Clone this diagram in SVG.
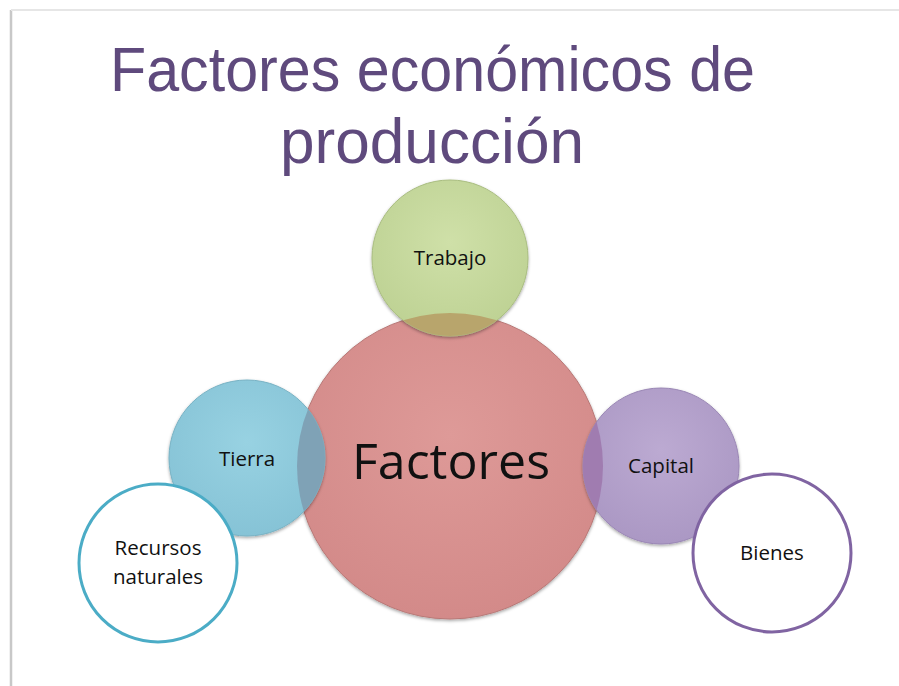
<svg xmlns="http://www.w3.org/2000/svg" width="899" height="686" viewBox="0 0 899 686">
  <defs>
    <style>
      .title { font-family: "Liberation Sans", Arial, sans-serif; fill: #5f4a7d; font-size: 63px; }
      .lbl { font-family: "Open Sans", "Liberation Sans", sans-serif; fill: #111; font-size: 20.5px; text-anchor: middle; }
      .big { font-family: "Open Sans", "Liberation Sans", sans-serif; fill: #111; font-size: 50px; text-anchor: middle; }
    </style>
    <clipPath id="clipBig"><circle cx="450" cy="466" r="153"/></clipPath>
    <radialGradient id="gGreen" cx="50%" cy="40%" r="60%">
      <stop offset="0" stop-color="#cfe0a8"/>
      <stop offset="1" stop-color="#bed294"/>
    </radialGradient>
    <radialGradient id="gPink" cx="50%" cy="40%" r="60%">
      <stop offset="0" stop-color="#de9a98"/>
      <stop offset="1" stop-color="#d38a89"/>
    </radialGradient>
    <radialGradient id="gBlue" cx="50%" cy="40%" r="60%">
      <stop offset="0" stop-color="#98d2e2"/>
      <stop offset="1" stop-color="#86c3d6"/>
    </radialGradient>
    <radialGradient id="gPurple" cx="50%" cy="40%" r="60%">
      <stop offset="0" stop-color="#bcaad2"/>
      <stop offset="1" stop-color="#ab98c4"/>
    </radialGradient>
    <filter id="sh" x="-10%" y="-10%" width="120%" height="120%">
      <feDropShadow dx="0" dy="1.5" stdDeviation="1.5" flood-color="#000" flood-opacity="0.35"/>
    </filter>
  </defs>

  <rect x="0" y="0" width="899" height="686" fill="#ffffff"/>
  <!-- slide border -->
  <line x1="11" y1="10" x2="11" y2="686" stroke="#c8c8c8" stroke-width="2.5"/>
  <line x1="11" y1="10" x2="899" y2="10" stroke="#e6e6e6" stroke-width="2"/>

  <g id="title">
    <text class="title" x="110" y="91" textLength="645" lengthAdjust="spacingAndGlyphs">Factores económicos de</text>
    <text class="title" x="280" y="163" textLength="304" lengthAdjust="spacingAndGlyphs">producción</text>
  </g>

  <g id="factores">
    <circle cx="450" cy="466" r="153" fill="url(#gPink)" stroke="#b87876" stroke-width="1" filter="url(#sh)"/>
  </g>

  <g id="trabajo">
    <circle cx="450" cy="258" r="78" fill="url(#gGreen)" stroke="#a9bd80" stroke-width="1" filter="url(#sh)"/>
    <circle cx="450" cy="258" r="78" fill="#b8a56c" clip-path="url(#clipBig)"/>
    <text class="lbl" x="450" y="265">Trabajo</text>
  </g>

  <g id="tierra">
    <circle cx="247" cy="458" r="78" fill="url(#gBlue)" stroke="#78b2c4" stroke-width="1" filter="url(#sh)"/>
    <circle cx="247" cy="458" r="78" fill="#7fa2b6" clip-path="url(#clipBig)"/>
    <text class="lbl" x="247" y="466">Tierra</text>
  </g>

  <g id="capital">
    <circle cx="661" cy="466" r="78" fill="url(#gPurple)" stroke="#9a87b5" stroke-width="1" filter="url(#sh)"/>
    <circle cx="661" cy="466" r="78" fill="#a07cb0" clip-path="url(#clipBig)"/>
    <text class="lbl" x="661" y="473">Capital</text>
  </g>

  <g id="factores-label">
    <text class="big" x="451" y="479" textLength="198" lengthAdjust="spacingAndGlyphs">Factores</text>
  </g>

  <g id="recursos">
    <circle cx="158" cy="563" r="79" fill="#ffffff" stroke="#4bacc6" stroke-width="3"/>
    <text class="lbl" x="158" y="555">Recursos</text>
    <text class="lbl" x="158" y="584">naturales</text>
  </g>

  <g id="bienes">
    <circle cx="772" cy="553" r="79" fill="#ffffff" stroke="#8064a2" stroke-width="3"/>
    <text class="lbl" x="772" y="560">Bienes</text>
  </g>

  <g id="connectors"></g>
</svg>
